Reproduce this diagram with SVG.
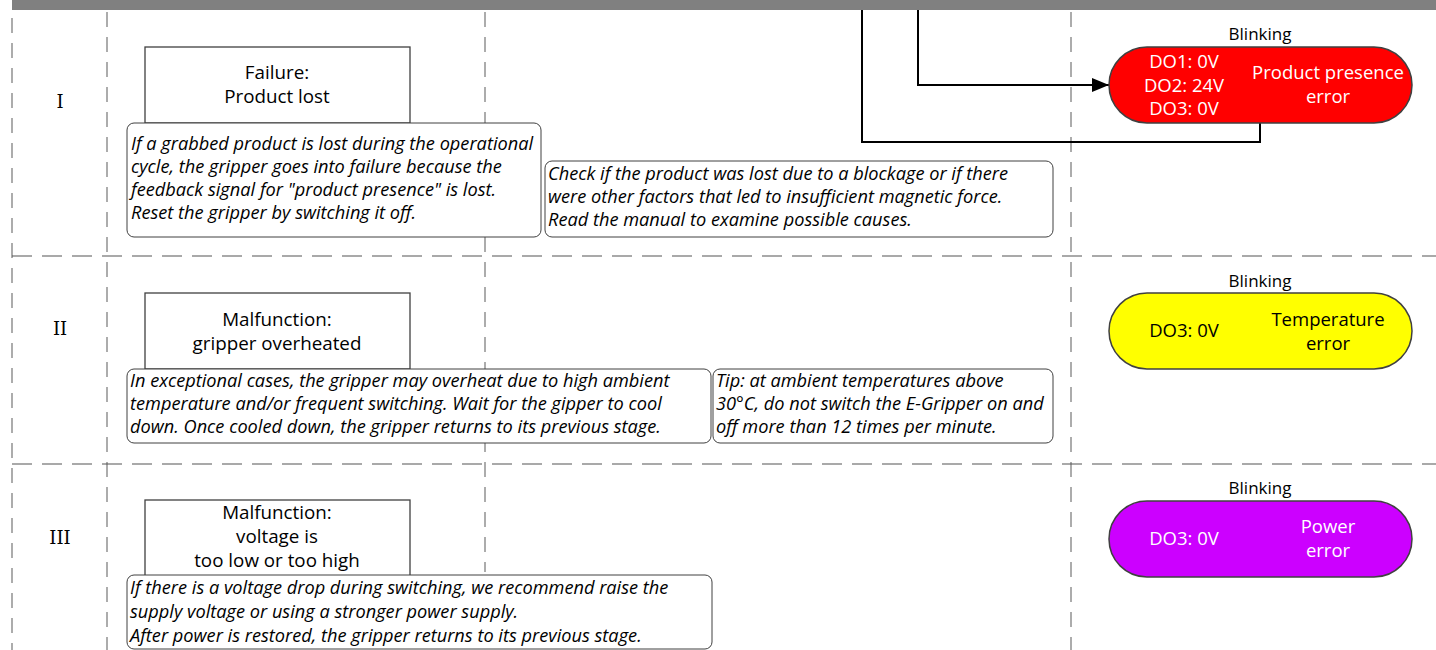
<svg xmlns="http://www.w3.org/2000/svg" width="1436" height="650" viewBox="0 0 1436 650">
<style>
.vd{stroke:#808080;stroke-width:1.3;stroke-dasharray:15 10;fill:none}
.hd{stroke:#555;stroke-width:1.2;stroke-dasharray:20 10;fill:none}
.box{fill:#fff;stroke:#404040;stroke-width:1.3}
.note{fill:#fff;stroke:#404040;stroke-width:1}
.t{font-family:"Open Sans","Noto Sans",sans-serif;font-size:18.8px;fill:#000;text-anchor:middle}
.it{font-family:"Open Sans","Noto Sans",sans-serif;font-style:italic;font-size:18.2px;fill:#000}
.rn{font-family:"DejaVu Serif","Liberation Serif",serif;font-size:18px;fill:#000;text-anchor:middle}
.bl{font-family:"Open Sans","Noto Sans",sans-serif;font-size:17px;fill:#000;text-anchor:middle}
.pill{stroke:#404040;stroke-width:1.5}
.pt{font-family:"Open Sans","Noto Sans",sans-serif;font-size:18.5px;text-anchor:middle}
.conn{stroke:#000;stroke-width:2;fill:none}
</style>
<defs>
<marker id="arr" markerWidth="17" markerHeight="14" refX="17" refY="7" orient="auto" markerUnits="userSpaceOnUse" viewBox="0 0 17 14">
<path d="M0,0 L17,7 L0,14 Z" fill="#000"/>
</marker>
</defs>
<g id="grid">
<rect x="12" y="0" width="1424" height="10" fill="#808080"/>
<line class="vd" x1="12" y1="18" x2="12" y2="650"/>
<line class="vd" x1="107" y1="12" x2="107" y2="650"/>
<line class="vd" x1="485" y1="12" x2="485" y2="572"/>
<line class="vd" x1="1071" y1="12" x2="1071" y2="650"/>
<line class="hd" x1="12" y1="256" x2="1436" y2="256"/>
<line class="hd" x1="12" y1="464" x2="1436" y2="464"/>
</g>
<g id="connectors">
<path class="conn" d="M918,10 V85 H1109" marker-end="url(#arr)"/>
<path class="conn" d="M1260,123 V142 H862 V10"/>
</g>
<g id="row1">
<text class="rn" x="60" y="108">I</text>
<g id="box1"><rect class="box" x="145" y="47" width="265" height="76"/>
<text class="t" x="277" y="79">Failure:</text><text class="t" x="277" y="103">Product lost</text></g>
<g id="note1"><rect class="note" x="127" y="123" width="414" height="114" rx="7"/>
<text class="it" x="131" y="150">If a grabbed product is lost during the operational</text>
<text class="it" x="131" y="173">cycle, the gripper goes into failure because the</text>
<text class="it" x="131" y="196">feedback signal for "product presence" is lost.</text>
<text class="it" x="131" y="219">Reset the gripper by switching it off.</text></g>
<g id="note1b"><rect class="note" x="545" y="161" width="508" height="76" rx="7"/>
<text class="it" x="548" y="180">Check if the product was lost due to a blockage or if there</text>
<text class="it" x="548" y="203">were other factors that led to insufficient magnetic force.</text>
<text class="it" x="548" y="226">Read the manual to examine possible causes.</text></g>
<g id="pill1">
<text class="bl" x="1260" y="40">Blinking</text>
<rect class="pill" x="1109" y="47" width="303" height="76" rx="38" fill="#FF0000"/>
<text class="pt" fill="#fff" x="1184" y="68">DO1: 0V</text>
<text class="pt" fill="#fff" x="1184" y="92">DO2: 24V</text>
<text class="pt" fill="#fff" x="1184" y="115">DO3: 0V</text>
<text class="pt" fill="#fff" x="1328" y="79">Product presence</text>
<text class="pt" fill="#fff" x="1328" y="103">error</text>
</g>
</g>
<g id="row2">
<text class="rn" x="60" y="335">II</text>
<g id="box2"><rect class="box" x="145" y="293" width="265" height="76"/>
<text class="t" x="277" y="326">Malfunction:</text><text class="t" x="277" y="350">gripper overheated</text></g>
<g id="note2"><rect class="note" x="127" y="369" width="584" height="74" rx="7"/>
<text class="it" x="130" y="387">In exceptional cases, the gripper may overheat due to high ambient</text>
<text class="it" x="130" y="410">temperature and/or frequent switching. Wait for the gipper to cool</text>
<text class="it" x="130" y="433">down. Once cooled down, the gripper returns to its previous stage.</text></g>
<g id="note2b"><rect class="note" x="713" y="369" width="340" height="74" rx="7"/>
<text class="it" x="716" y="387">Tip: at ambient temperatures above</text>
<text class="it" x="716" y="410">30°C, do not switch the E-Gripper on and</text>
<text class="it" x="716" y="433">off more than 12 times per minute.</text></g>
<g id="pill2">
<text class="bl" x="1260" y="287">Blinking</text>
<rect class="pill" x="1109" y="293" width="303" height="76" rx="38" fill="#FFFF00"/>
<text class="pt" fill="#000" x="1184" y="337">DO3: 0V</text>
<text class="pt" fill="#000" x="1328" y="326">Temperature</text>
<text class="pt" fill="#000" x="1328" y="350">error</text>
</g>
</g>
<g id="row3">
<text class="rn" x="60" y="544">III</text>
<g id="box3"><rect class="box" x="145" y="500" width="265" height="76"/>
<text class="t" x="277" y="519">Malfunction:</text><text class="t" x="277" y="543">voltage is</text><text class="t" x="277" y="567">too low or too high</text></g>
<g id="note3"><rect class="note" x="127" y="575" width="585" height="74" rx="7"/>
<text class="it" x="130" y="594">If there is a voltage drop during switching, we recommend raise the</text>
<text class="it" x="130" y="618">supply voltage or using a stronger power supply.</text>
<text class="it" x="130" y="642">After power is restored, the gripper returns to its previous stage.</text></g>
<g id="pill3">
<text class="bl" x="1260" y="494">Blinking</text>
<rect class="pill" x="1109" y="501" width="303" height="76" rx="38" fill="#CC00FF"/>
<text class="pt" fill="#fff" x="1184" y="545">DO3: 0V</text>
<text class="pt" fill="#fff" x="1328" y="533">Power</text>
<text class="pt" fill="#fff" x="1328" y="557">error</text>
</g>
</g>
</svg>
